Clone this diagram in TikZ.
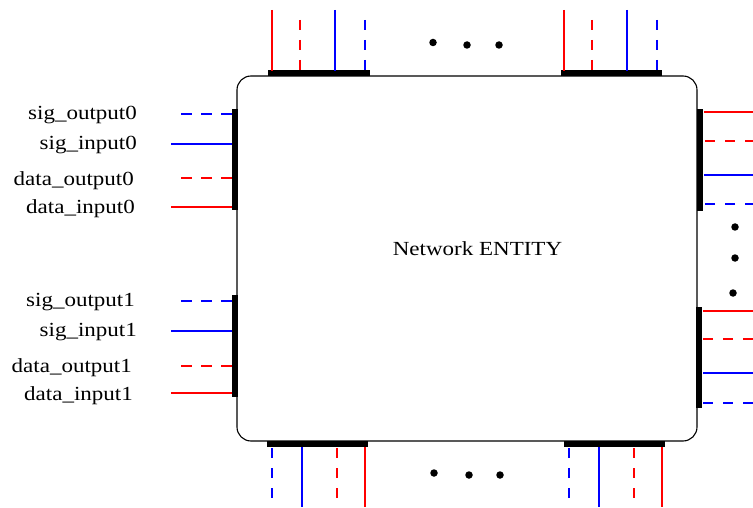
\documentclass[tikz,border=0pt]{standalone}
\usepackage{fontspec}
\setmainfont{Liberation Serif}[FakeStretch=1.15]
\begin{document}
\begin{tikzpicture}[x=1pt,y=-1pt,
  lbl/.style={font=\fontsize{20}{24}\selectfont, inner sep=0pt, anchor=east},
  wire/.style={line width=1.3pt},
  dsh/.style={wire, dash pattern=on 10pt off 10pt},
  dshl/.style={wire, dash pattern=on 11pt off 9pt},
  bar/.style={fill=black, draw=none},
  dot/.style={circle, fill=black, inner sep=0pt, minimum size=7.5pt}]
\useasboundingbox (0,0) rectangle (753,508);
% main box
\draw[line width=1.1pt, rounded corners=14pt] (237,76) rectangle (697,441);
\node[font=\fontsize{20}{24}\selectfont, inner sep=0pt] (title) at (477.5,248.5) {Network ENTITY};
% top port bars
\fill[bar] (268,70.5) rectangle (370,76);
\fill[bar] (561,70.5) rectangle (662,76);
% top-left wires
\draw[wire, red]  (272,10) -- (272,71);
\draw[dsh, red]   (300,20) -- (300,71);
\draw[wire, blue] (335,10) -- (335,71);
\draw[dsh, blue]  (365,20) -- (365,71);
% top-right wires
\draw[wire, red]  (564,10) -- (564,71);
\draw[dsh, red]   (592,20) -- (592,71);
\draw[wire, blue] (627,10) -- (627,71);
\draw[dsh, blue]  (657,20) -- (657,71);
% top dots
\node[dot] (td1) at (433,42.5) {};
\node[dot] (td2) at (467,45) {};
\node[dot] (td3) at (499,45) {};
% left port bars
\fill[bar] (232,109) rectangle (237.5,210);
\fill[bar] (232,295) rectangle (237.5,397);
% left wires group 0
\draw[dshl, blue] (181,114) -- (232,114);
\draw[wire, blue] (171,144) -- (232,144);
\draw[dshl, red]  (181,178) -- (232,178);
\draw[wire, red]  (171,207) -- (232,207);
\node[lbl] (so0) at (137,115.5) {sig\_output0};
\node[lbl] (si0) at (137,145.5) {sig\_input0};
\node[lbl] (do0) at (134,180.5) {data\_output0};
\node[lbl] (di0) at (135,208.5) {data\_input0};
% left wires group 1
\draw[dshl, blue] (181,301) -- (232,301);
\draw[wire, blue] (171,331) -- (232,331);
\draw[dshl, red]  (181,366) -- (232,366);
\draw[wire, red]  (171,393) -- (232,393);
\node[lbl] (so1) at (135,302.5) {sig\_output1};
\node[lbl] (si1) at (137,332.5) {sig\_input1};
\node[lbl] (do1) at (132,367.5) {data\_output1};
\node[lbl] (di1) at (133,395.5) {data\_input1};
% right port bars
\fill[bar] (697,109) rectangle (703,211);
\fill[bar] (696,307) rectangle (702,408);
% right wires group 0
\draw[wire, red]  (704,112) -- (753,112);
\draw[dsh, red]   (705,141) -- (753,141);
\draw[wire, blue] (704,175) -- (753,175);
\draw[dsh, blue]  (705,204) -- (753,204);
% right wires group 1
\draw[wire, red]  (703,311) -- (753,311);
\draw[dsh, red]   (703,339) -- (753,339);
\draw[wire, blue] (703,373) -- (753,373);
\draw[dsh, blue]  (703,403) -- (753,403);
% right dots
\node[dot] (rd1) at (735,227) {};
\node[dot] (rd2) at (735,258) {};
\node[dot] (rd3) at (733,293) {};
% bottom port bars
\fill[bar] (267,441) rectangle (368,447);
\fill[bar] (564,441) rectangle (665,447);
% bottom-left wires
\draw[dsh, blue]  (272,448) -- (272,498);
\draw[wire, blue] (302,447) -- (302,507);
\draw[dsh, red]   (337,448) -- (337,498);
\draw[wire, red]  (365,447) -- (365,507);
% bottom-right wires
\draw[dsh, blue]  (569,448) -- (569,498);
\draw[wire, blue] (599,447) -- (599,507);
\draw[dsh, red]   (634,448) -- (634,498);
\draw[wire, red]  (662,447) -- (662,507);
% bottom dots
\node[dot] (bd1) at (434,473) {};
\node[dot] (bd2) at (469,475) {};
\node[dot] (bd3) at (500,475) {};
\end{tikzpicture}
\end{document}
